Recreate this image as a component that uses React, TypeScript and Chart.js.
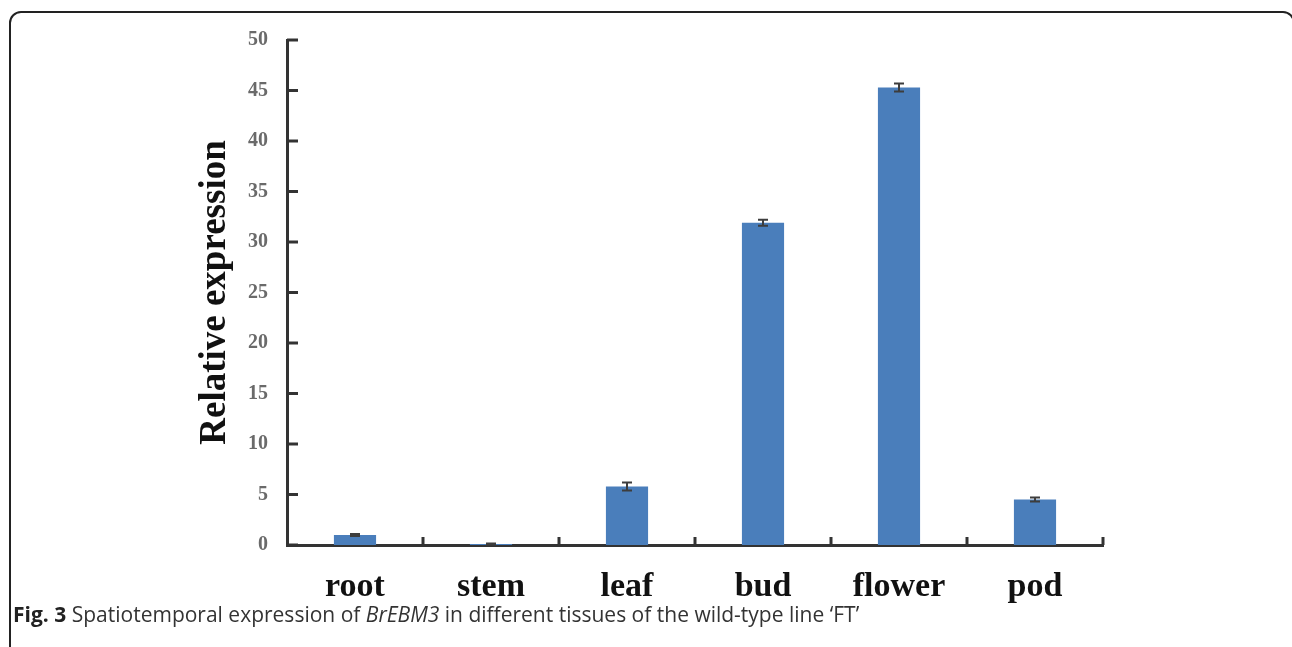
import React, { useEffect, useRef } from "react";
import { Chart, registerables } from "chart.js";

Chart.register(...registerables);

const categories: string[] = ["root", "stem", "leaf", "bud", "flower", "pod"];
const values: number[] = [1.0, 0.1, 5.8, 31.9, 45.3, 4.5];
const errors: number[] = [0.1, 0.05, 0.4, 0.3, 0.4, 0.2];
const yTicks: number[] = [0, 5, 10, 15, 20, 25, 30, 35, 40, 45, 50];
const yTitle = "Relative expression";

const SERIF = "'Liberation Serif', 'Times New Roman', serif";

const decorPlugin = {
  id: "decor",
  afterDatasetsDraw(chart: any) {
    const ctx = chart.ctx;
    const x = chart.scales.x;
    const y = chart.scales.y;
    const area = chart.chartArea;
    ctx.save();
    // error bars
    ctx.strokeStyle = "#3d3d3d";
    ctx.lineWidth = 2;
    const meta = chart.getDatasetMeta(0);
    values.forEach((v, i) => {
      const bar = meta.data[i];
      const cx = bar.x;
      const yTop = y.getPixelForValue(v + errors[i]);
      const yBot = y.getPixelForValue(Math.max(0, v - errors[i]));
      const cap = 5;
      ctx.beginPath();
      ctx.moveTo(cx, yTop);
      ctx.lineTo(cx, yBot);
      ctx.moveTo(cx - cap, yTop);
      ctx.lineTo(cx + cap, yTop);
      ctx.moveTo(cx - cap, yBot);
      ctx.lineTo(cx + cap, yBot);
      ctx.stroke();
    });
    // inward y ticks
    ctx.strokeStyle = "#333";
    ctx.lineWidth = 3;
    yTicks.forEach((t) => {
      const py = y.getPixelForValue(t);
      ctx.beginPath();
      ctx.moveTo(area.left, py);
      ctx.lineTo(area.left + 11, py);
      ctx.stroke();
    });
    // upward x ticks at category boundaries
    const step = x.getPixelForValue(1) - x.getPixelForValue(0);
    categories.forEach((_, i) => {
      const px = x.getPixelForValue(i) + step / 2;
      ctx.beginPath();
      ctx.moveTo(px, area.bottom);
      ctx.lineTo(px, area.bottom - 8);
      ctx.stroke();
    });
    ctx.restore();
  },
};

export default function App() {
  const ref = useRef<HTMLCanvasElement | null>(null);
  useEffect(() => {
    if (!ref.current) return;
    const chart = new Chart(ref.current, {
      type: "bar",
      data: {
        labels: categories,
        datasets: [
          {
            data: values,
            backgroundColor: "#4A7EBB",
            borderWidth: 0,
            barPercentage: 0.31,
            categoryPercentage: 1,
          },
        ],
      },
      options: {
        responsive: false,
        animation: false,
        devicePixelRatio: 1,
        layout: { padding: { top: 40, right: 189, bottom: 42, left: 0 } },
        plugins: { legend: { display: false }, tooltip: { enabled: false } },
        scales: {
          x: {
            grid: { display: false, drawTicks: false },
            border: { display: true, color: "#333", width: 3 },
            ticks: {
              color: "#111",
              padding: 22,
              font: { family: SERIF, size: 34, weight: "bold" },
            },
            afterFit: (s: any) => {
              s.height = 60;
            },
          },
          y: {
            min: 0,
            max: 50,
            grid: { display: false, drawTicks: false },
            border: { display: true, color: "#333", width: 3 },
            ticks: {
              stepSize: 5,
              color: "#6a6a6a",
              padding: 19,
              font: { family: SERIF, size: 20, weight: "bold" },
            },
            title: {
              display: true,
              text: yTitle,
              color: "#111",
              font: { family: SERIF, size: 37, weight: "bold" },
              padding: { top: 193, bottom: 0 },
            },
            afterFit: (s: any) => {
              s.width = 287;
            },
          },
        },
      },
      plugins: [decorPlugin],
    });
    return () => chart.destroy();
  }, []);

  return (
    <div style={{ position: "absolute", left: 0, top: 0, width: 1292, height: 647, overflow: "hidden", background: "#fff" }}>
      <canvas ref={ref} width={1292} height={647} style={{ position: "absolute", left: 0, top: 0 }} />
      <div
        style={{
          position: "absolute",
          left: 9,
          top: 11,
          width: 1286,
          height: 700,
          border: "2px solid #222",
          borderRadius: 12,
          boxSizing: "border-box",
          pointerEvents: "none",
        }}
      />
      <div
        style={{
          position: "absolute",
          left: 13,
          top: 600,
          fontFamily: "'Open Sans', 'Noto Sans', sans-serif",
          fontSize: 21,
          color: "#333",
          whiteSpace: "nowrap",
        }}
      >
        <span style={{ fontWeight: 700, color: "#222" }}>Fig. 3</span> Spatiotemporal expression of{" "}
        <i>BrEBM3</i> in different tissues of the wild-type line ‘FT’
      </div>
    </div>
  );
}
